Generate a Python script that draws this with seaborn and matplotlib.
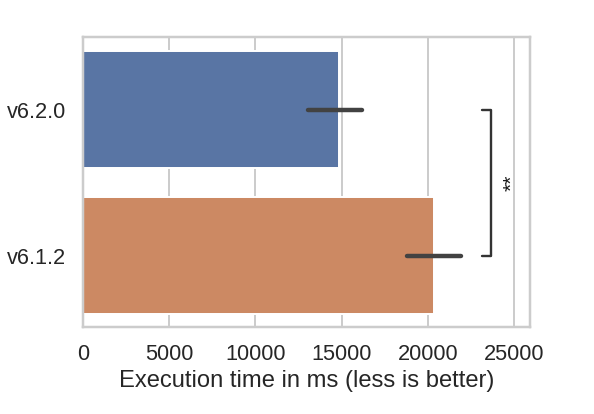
import numpy as np
import pandas as pd
import matplotlib
matplotlib.use("Agg")
import matplotlib.pyplot as plt
import seaborn as sns

versions = ["v6.2.0", "v6.1.2"]
mean_ms = [14866, 20377]
ci_low_ms = [13070, 18776]
ci_high_ms = [16166, 21926]
significance = "**"
xlabel = "Execution time in ms (less is better)"

sns.set_theme(style="whitegrid", context="talk")
plt.rcParams["font.family"] = ["Liberation Sans", "DejaVu Sans"]

rows = []
for v, lo, m, hi in zip(versions, ci_low_ms, mean_ms, ci_high_ms):
    for val in (lo, m, hi):
        rows.append({"version": v, "time": val})
df = pd.DataFrame(rows)

fig = plt.figure(figsize=(594 / 95, 414 / 95), dpi=95)
ax = fig.add_subplot(111)
fig.subplots_adjust(left=0.1397, right=0.8923, top=0.9106, bottom=0.2101)

sns.barplot(data=df, x="time", y="version", hue="version", order=versions,
            estimator="median", errorbar=lambda x: (x.min(), x.max()),
            err_kws={"solid_capstyle": "round"},
            legend=False, ax=ax)

ax.set_xlim(0, 25930)
ax.set_ylim(1.49, -0.497)
ax.set_xticks([0, 5000, 10000, 15000, 20000, 25000])
ax.set_xlabel(xlabel)
ax.set_ylabel("")

# significance bracket between the two bars
bx = 23648
tick = 23161
ax.plot([tick, bx, bx, tick], [0, 0, 1, 1], color="0.2", lw=1.8, clip_on=False)
ax.text(24350, 0.5, significance, rotation=90, ha="left", va="center",
        fontsize=16, color="0.1")

fig.savefig("out.png", dpi=95)
